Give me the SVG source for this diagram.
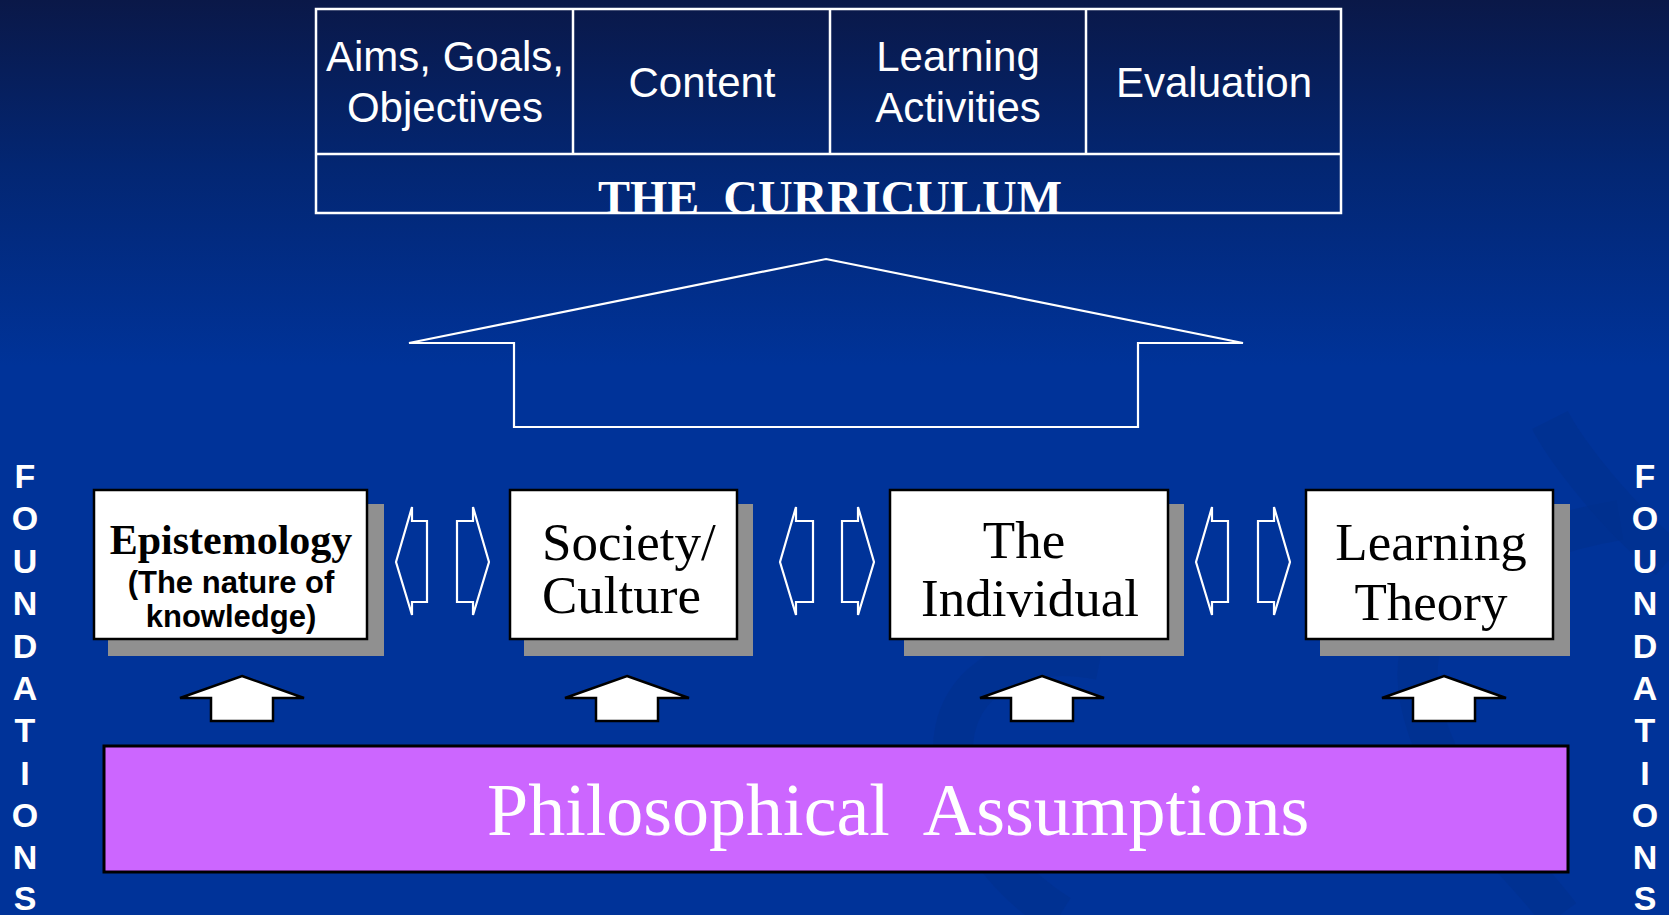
<svg xmlns="http://www.w3.org/2000/svg" width="1669" height="915" viewBox="0 0 1669 915">
  <defs>
    <linearGradient id="bg" x1="0" y1="0" x2="0" y2="1">
      <stop offset="0" stop-color="#0a1848"/>
      <stop offset="0.18" stop-color="#032672"/>
      <stop offset="0.4" stop-color="#003399"/>
      <stop offset="1" stop-color="#003399"/>
    </linearGradient>
    <style>
      .cell { fill: none; stroke: #ffffff; stroke-width: 2.5; }
      .celltxt { font-family: "Liberation Sans", Arial, sans-serif; font-size: 42px; fill: #ffffff; text-anchor: middle; }
      .title { font-family: "Liberation Serif", "Times New Roman", serif; font-weight: bold; font-size: 48px; fill: #ffffff; text-anchor: middle; }
      .shadow { fill: #909090; }
      .box { fill: #ffffff; stroke: #000000; stroke-width: 2.5; }
      .serif { font-family: "Liberation Serif", "Times New Roman", serif; font-size: 53px; fill: #000000; }
      .epi { font-family: "Liberation Serif", "Times New Roman", serif; font-size: 42px; font-weight: bold; fill: #000000; text-anchor: middle; }
      .epis { font-family: "Liberation Sans", Arial, sans-serif; font-size: 31px; font-weight: bold; fill: #000000; text-anchor: middle; }
      .outline { fill: none; stroke: #ffffff; stroke-width: 2.2; stroke-linejoin: miter; }
      .up { fill: #ffffff; stroke: #000000; stroke-width: 2.5; stroke-linejoin: miter; }
      .found { font-family: "Liberation Sans", Arial, sans-serif; font-size: 34px; font-weight: bold; fill: #ffffff; text-anchor: middle; }
      .swirl { fill: none; stroke: #00308c; stroke-width: 40; opacity: 0.5; }
    </style>
  </defs>

  <rect x="0" y="0" width="1669" height="915" fill="url(#bg)"/>
  <g id="background-swirls">
    <path class="swirl" d="M1100,660 C1000,640 930,700 960,790 C980,850 1020,890 1060,915"/>
    <path class="swirl" d="M1620,520 C1500,540 1400,600 1420,700 C1440,800 1520,860 1560,915"/>
    <path class="swirl" d="M1669,560 C1600,500 1560,440 1550,420"/>
  </g>

  <g id="curriculum">
    <rect class="cell" x="316" y="9" width="1025" height="204"/>
    <line class="cell" x1="316" y1="154" x2="1341" y2="154"/>
    <line class="cell" x1="573" y1="9" x2="573" y2="154"/>
    <line class="cell" x1="830" y1="9" x2="830" y2="154"/>
    <line class="cell" x1="1086" y1="9" x2="1086" y2="154"/>
    <text class="celltxt" x="445" y="71">Aims, Goals,</text>
    <text class="celltxt" x="445" y="122">Objectives</text>
    <text class="celltxt" x="702" y="97">Content</text>
    <text class="celltxt" x="958" y="71">Learning</text>
    <text class="celltxt" x="958" y="122">Activities</text>
    <text class="celltxt" x="1214" y="97">Evaluation</text>
    <text class="title" x="830" y="214" xml:space="preserve">THE  CURRICULUM</text>
  </g>

  <g id="connectors">
    <path id="house-arrow" class="outline" d="M826,259 L1243,343 L1138,343 L1138,427 L514,427 L514,343 L409,343 Z"/>
    <g id="double-arrows">
      <path class="outline" d="M396,562 L412,507 L412,521 L427,521 L427,602 L412,602 L412,615 Z"/>
      <path class="outline" d="M489,562 L473,507 L473,521 L457,521 L457,602 L473,602 L473,615 Z"/>
      <path class="outline" d="M780,562 L796,507 L796,521 L813,521 L813,602 L796,602 L796,615 Z"/>
      <path class="outline" d="M874,562 L858,507 L858,521 L842,521 L842,602 L858,602 L858,615 Z"/>
      <path class="outline" d="M1196,562 L1212,507 L1212,521 L1228,521 L1228,602 L1212,602 L1212,615 Z"/>
      <path class="outline" d="M1290,562 L1274,507 L1274,521 L1258,521 L1258,602 L1274,602 L1274,615 Z"/>
    </g>
    <g id="up-arrows">
      <path class="up" d="M242,676 L304,698 L273,698 L273,721 L211,721 L211,698 L180,698 Z"/>
      <path class="up" d="M627,676 L689,698 L658,698 L658,721 L596,721 L596,698 L565,698 Z"/>
      <path class="up" d="M1042,676 L1104,698 L1073,698 L1073,721 L1011,721 L1011,698 L980,698 Z"/>
      <path class="up" d="M1444,676 L1506,698 L1475,698 L1475,721 L1413,721 L1413,698 L1382,698 Z"/>
    </g>
  </g>

  <g id="epistemology">
    <rect class="shadow" x="108" y="504" width="276" height="152"/>
    <rect class="box" x="94" y="490" width="273" height="149"/>
    <text class="epi" x="231" y="554">Epistemology</text>
    <text class="epis" x="231" y="593">(The nature of</text>
    <text class="epis" x="231" y="627">knowledge)</text>
  </g>

  <g id="society-culture">
    <rect class="shadow" x="524" y="504" width="229" height="152"/>
    <rect class="box" x="510" y="490" width="227" height="149"/>
    <text class="serif" x="542" y="560">Society/</text>
    <text class="serif" x="542" y="613">Culture</text>
  </g>

  <g id="the-individual">
    <rect class="shadow" x="904" y="504" width="280" height="152"/>
    <rect class="box" x="890" y="490" width="278" height="149"/>
    <text class="serif" x="1024" y="558" text-anchor="middle">The</text>
    <text class="serif" x="1030" y="616" text-anchor="middle">Individual</text>
  </g>

  <g id="learning-theory">
    <rect class="shadow" x="1320" y="504" width="250" height="152"/>
    <rect class="box" x="1306" y="490" width="247" height="149"/>
    <text class="serif" x="1431" y="560" text-anchor="middle">Learning</text>
    <text class="serif" x="1431" y="620" text-anchor="middle">Theory</text>
  </g>

  <g id="philosophical-assumptions">
    <rect x="104" y="746" width="1464" height="126" fill="#cc66ff" stroke="#000000" stroke-width="3"/>
    <text x="487" y="835" font-family="'Liberation Serif', 'Times New Roman', serif" font-size="74" fill="#ffffff" xml:space="preserve">Philosophical  Assumptions</text>
  </g>

  <g id="foundations-left">
    <text class="found" x="25" y="488">F</text>
    <text class="found" x="25" y="530">O</text>
    <text class="found" x="25" y="573">U</text>
    <text class="found" x="25" y="615">N</text>
    <text class="found" x="25" y="658">D</text>
    <text class="found" x="25" y="700">A</text>
    <text class="found" x="25" y="742">T</text>
    <text class="found" x="25" y="785">I</text>
    <text class="found" x="25" y="827">O</text>
    <text class="found" x="25" y="869">N</text>
    <text class="found" x="25" y="910">S</text>
  </g>
  <g id="foundations-right">
    <text class="found" x="1645" y="488">F</text>
    <text class="found" x="1645" y="530">O</text>
    <text class="found" x="1645" y="573">U</text>
    <text class="found" x="1645" y="615">N</text>
    <text class="found" x="1645" y="658">D</text>
    <text class="found" x="1645" y="700">A</text>
    <text class="found" x="1645" y="742">T</text>
    <text class="found" x="1645" y="785">I</text>
    <text class="found" x="1645" y="827">O</text>
    <text class="found" x="1645" y="869">N</text>
    <text class="found" x="1645" y="910">S</text>
  </g>
</svg>
